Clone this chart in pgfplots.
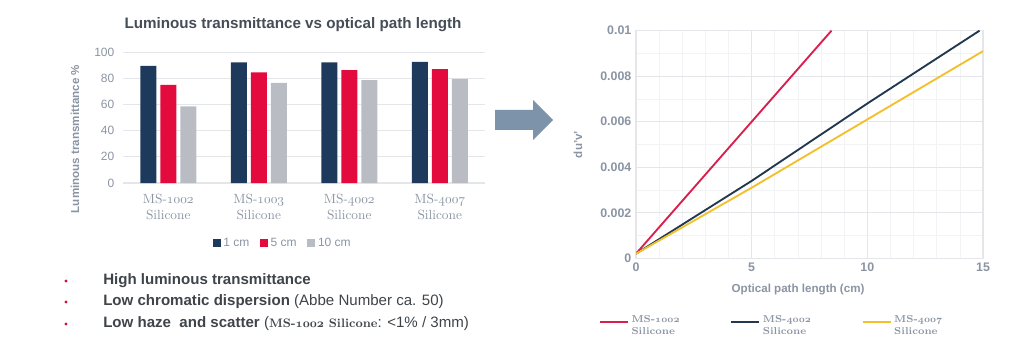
\documentclass[border=0pt]{standalone}
\usepackage{fontspec}
\setmainfont{Liberation Sans}
\newfontfamily\lmr{Latin Modern Roman}
\usepackage{pgfplots}
\pgfplotsset{compat=1.18}
\newcommand\osf[1]{{\usefont{OML}{cmm}{m}{it}#1}}
\newcommand\osfb[1]{{\usefont{OML}{cmm}{b}{it}#1}}
\definecolor{navy}{HTML}{1D3A5C}
\definecolor{crimson}{HTML}{E30B3E}
\definecolor{lgray}{HTML}{B9BDC3}
\definecolor{tickgray}{HTML}{8A94A3}
\definecolor{titlegray}{HTML}{454D57}
\definecolor{arrowc}{HTML}{7D93A9}
\definecolor{lred}{HTML}{D8204E}
\definecolor{ldark}{HTML}{22384E}
\definecolor{lyellow}{HTML}{F3C02B}
\definecolor{textdark}{HTML}{3F444A}
\definecolor{bulletred}{HTML}{D0103A}
\definecolor{gridc}{HTML}{E4E6E9}
\definecolor{mgridc}{HTML}{F2F3F4}
\begin{document}
\begin{tikzpicture}
\path[use as bounding box] (0pt,0pt) rectangle (768pt,265.5pt);
% ---------- left bar chart ----------
\begin{axis}[
  at={(92.25pt,128.25pt)}, anchor=south west,
  scale only axis, width=271.5pt, height=98.25pt,
  ybar=3pt, bar width=12pt,
  xmin=-0.5, xmax=3.5, ymin=0, ymax=100,
  xtick={0,1,2,3},
  xticklabels={
    {{\lmr MS-\osf{1002}}\\{\lmr Silicone}},
    {{\lmr MS-\osf{1003}}\\{\lmr Silicone}},
    {{\lmr MS-\osf{4002}}\\{\lmr Silicone}},
    {{\lmr MS-\osf{4007}}\\{\lmr Silicone}}},
  xticklabel style={align=center, font=\fontsize{10}{11.5}\selectfont, text=tickgray, yshift=-5pt},
  ytick={0,20,40,60,80,100},
  yticklabel style={font=\fontsize{9}{10}\selectfont, text=tickgray, xshift=-3pt},
  /pgf/number format/assume math mode=true,
  ymajorgrids, grid style={gridc, line width=0.6pt},
  axis x line*=bottom, axis y line*=left,
  y axis line style={draw=none},
  x axis line style={gridc, line width=0.8pt, -},
  major tick length=0pt,
  ylabel={\bfseries Luminous transmittance \%},
  ylabel style={at={(axis description cs:-0.1326,0.336)}, anchor=center, font=\fontsize{8.7}{10}\selectfont, text=tickgray},
  every axis title shift=0pt,
  title={\bfseries Luminous transmittance vs optical path length},
  title style={at={(axis description cs:0.4696,1.206)}, anchor=center, font=\fontsize{11.4}{13}\selectfont, text=titlegray},
  legend style={at={(axis description cs:0.442,-0.458)}, anchor=center, draw=none, fill=none,
    legend columns=3, font=\fontsize{9}{10}\selectfont, text=tickgray,
    /tikz/every even column/.append style={column sep=6pt}},
  legend image code/.code={\fill[#1] (0pt,-3pt) rectangle (6pt,3pt);},
]
\addplot[fill=navy, draw=none] coordinates {(0,89.5) (1,92) (2,92) (3,92.5)};
\addplot[fill=crimson, draw=none] coordinates {(0,75) (1,84.5) (2,86.2) (3,87)};
\addplot[fill=lgray, draw=none] coordinates {(0,58.5) (1,76.5) (2,78.5) (3,79.5)};
\legend{1 cm, 5 cm, 10 cm}
\end{axis}
% ---------- bullets ----------
\foreach \yy in {54.75,39,22.5} {\fill[bulletred] (49.5pt,\yy pt) circle (1.3pt);}
\node[anchor=west, inner sep=0pt, text=textdark, font=\fontsize{11.3}{13}\selectfont] at (77.25pt,54.75pt) {\bfseries High luminous transmittance};
\node[anchor=west, inner sep=0pt, text=textdark, font=\fontsize{11.3}{13}\selectfont] at (77.25pt,39pt) {\bfseries Low chromatic dispersion \mdseries(Abbe Number ca. 50)};
\node[anchor=west, inner sep=0pt, text=textdark, font=\fontsize{11.3}{13}\selectfont] at (77.25pt,22.5pt) {\bfseries Low haze\ \ and scatter \mdseries({\fontsize{9.2}{12}\selectfont\lmr\bfseries MS-\osfb{1002} Silicone}: <1\% / 3mm)};
% ---------- arrow ----------
\fill[arrowc] (371.25pt,183pt) -- (399.75pt,183pt) -- (399.75pt,190.5pt) -- (414.75pt,175.5pt) -- (399.75pt,160.5pt) -- (399.75pt,168pt) -- (371.25pt,168pt) -- cycle;
% ---------- right line chart ----------
\begin{axis}[
  at={(477pt,71.8pt)}, anchor=south west,
  scale only axis, width=260.25pt, height=170.7pt,
  xmin=0, xmax=15, ymin=0, ymax=0.01,
  xtick={0,5,10,15}, ytick={0,0.002,0.004,0.006,0.008,0.01},
  minor xtick={1,2,3,4,6,7,8,9,11,12,13,14},
  minor ytick={0.001,0.003,0.005,0.007,0.009},
  scaled y ticks=false,
  yticklabel style={/pgf/number format/fixed, /pgf/number format/precision=3},
  /pgf/number format/assume math mode=true,
  ticklabel style={font=\bfseries\fontsize{9.3}{10}\selectfont, text=tickgray},
  grid=both, major grid style={gridc, line width=0.6pt}, minor grid style={mgridc, line width=0.5pt},
  axis line style={gridc, line width=0.8pt},
  major tick length=0pt, minor tick length=0pt,
  xlabel={\bfseries Optical path length (cm)},
  xlabel style={at={(axis description cs:0.467,-0.139)}, anchor=center, font=\fontsize{8.7}{10}\selectfont, text=tickgray},
  ylabel={\bfseries du'v'},
  ylabel style={at={(axis description cs:-0.167,0.5)}, anchor=center, font=\fontsize{8.7}{10}\selectfont, text=tickgray},
  legend style={at={(axis description cs:0.392,-0.297)}, anchor=center, draw=none, fill=none,
    legend columns=3, font=\bfseries\fontsize{7.5}{8.5}\selectfont, text=tickgray,
    nodes={align=left},
    /tikz/every even column/.append style={column sep=36pt}},
  legend image code/.code={\draw[#1] (0pt,3pt) -- (21pt,3pt);},
]
\addplot[lred, line width=1.4pt] coordinates {(0,0.0002) (5,0.006) (8.45,0.01)};
\addplot[ldark, line width=1.4pt] coordinates {(0,0.0002) (5,0.0034) (10,0.0068) (14.85,0.01)};
\addplot[lyellow, line width=1.4pt] coordinates {(0,0.0002) (5,0.0031) (10,0.0061) (15,0.0091)};
\addlegendentry{{\lmr MS-\osfb{1002}}\\{\lmr Silicone}}
\addlegendentry{{\lmr MS-\osfb{4002}}\\{\lmr Silicone}}
\addlegendentry{{\lmr MS-\osfb{4007}}\\{\lmr Silicone}}
\end{axis}
\end{tikzpicture}
\end{document}
